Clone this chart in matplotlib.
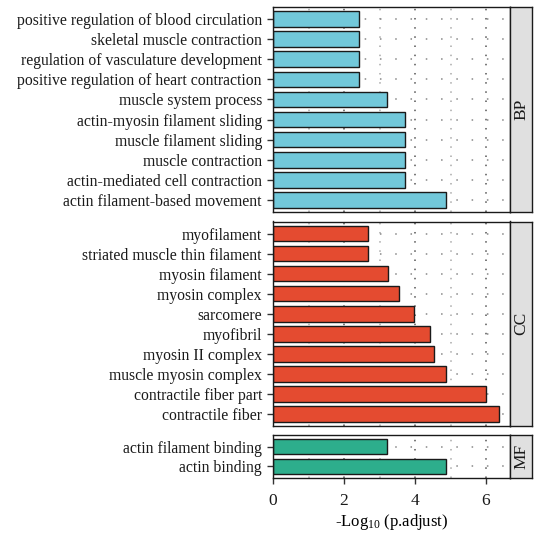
import numpy as np
import matplotlib
matplotlib.use('Agg')
import matplotlib.pyplot as plt

plt.rcParams['font.family'] = ['Liberation Serif', 'DejaVu Serif']
plt.rcParams['mathtext.default'] = 'regular'

# GO terms and -log10(p.adjust), listed top to bottom within each panel
bp_terms = ["positive regulation of blood circulation", "skeletal muscle contraction",
            "regulation of vasculature development", "positive regulation of heart contraction",
            "muscle system process", "actin-myosin filament sliding", "muscle filament sliding",
            "muscle contraction", "actin-mediated cell contraction", "actin filament-based movement"]
bp_values = [2.41, 2.41, 2.41, 2.41, 3.22, 3.73, 3.73, 3.73, 3.73, 4.87]

cc_terms = ["myofilament", "striated muscle thin filament", "myosin filament", "myosin complex",
            "sarcomere", "myofibril", "myosin II complex", "muscle myosin complex",
            "contractile fiber part", "contractile fiber"]
cc_values = [2.67, 2.69, 3.25, 3.56, 3.98, 4.43, 4.53, 4.87, 5.99, 6.36]

mf_terms = ["actin filament binding", "actin binding"]
mf_values = [3.22, 4.87]

panels = [("BP", bp_terms, bp_values, "#72C8DA"),
          ("CC", cc_terms, cc_values, "#E44B30"),
          ("MF", mf_terms, mf_values, "#2DAE8C")]

W, H = 537, 546
fig = plt.figure(figsize=(W / 100, H / 100), dpi=100)

x0, x1 = 273, 510
strip_w = 22
# top, bottom pixel rows of each panel
rows = [(7, 212), (221.5, 426), (435, 478)]
xmax = (x1 - x0) / 35.5

for i, ((name, terms, vals, col), (top, bot)) in enumerate(zip(panels, rows)):
    ax = fig.add_axes([x0 / W, 1 - bot / H, (x1 - x0) / W, (bot - top) / H])
    n = len(terms)
    y = np.arange(n)[::-1] + 1
    for gx in [1, 3, 5]:
        ax.axvline(gx, color='#AAAAAA', lw=1.1, ls=(0, (1, 5)), zorder=0)
    for gx in [2, 4, 6]:
        ax.axvline(gx, color='#555555', lw=1.1, ls=(0, (1, 5)), zorder=0)
    for gy in y:
        ax.axhline(gy, color='#888888', lw=1.1, ls=(0, (1, 9)), zorder=0)
    ax.barh(y, vals, height=0.78, color=col, edgecolor='#1a1a1a', linewidth=1.0, zorder=2)
    ax.set_xlim(0, xmax)
    ax.set_ylim(0.4, n + 0.6)
    ax.set_yticks(y)
    ax.set_yticklabels(terms, fontsize=11.3, color='#1a1a1a')
    ax.tick_params(axis='y', length=4, width=1.0, color='#333333', pad=4)
    ax.set_xticks([0, 2, 4, 6])
    if i < 2:
        ax.tick_params(axis='x', length=0, labelbottom=False)
    else:
        ax.set_xticklabels(['0', '2', '4', '6'], fontsize=12.5, color='#1a1a1a')
        ax.tick_params(axis='x', length=4, width=1.0, color='#333333', pad=7)
        ax.set_xlabel('-Log$_{10}$ (p.adjust)', fontsize=12, labelpad=2)
    for s in ax.spines.values():
        s.set_linewidth(1.0)
        s.set_color('#1a1a1a')

    sax = fig.add_axes([x1 / W, 1 - bot / H, strip_w / W, (bot - top) / H])
    sax.set_facecolor('#E0E0E0')
    sax.set_xticks([])
    sax.set_yticks([])
    for s in sax.spines.values():
        s.set_linewidth(1.0)
        s.set_color('#1a1a1a')
    sax.text(0.5, 0.5, name, rotation=90, ha='center', va='center',
             fontsize=12.5, color='#1a1a1a', transform=sax.transAxes)

fig.savefig('out.png', dpi=100)
